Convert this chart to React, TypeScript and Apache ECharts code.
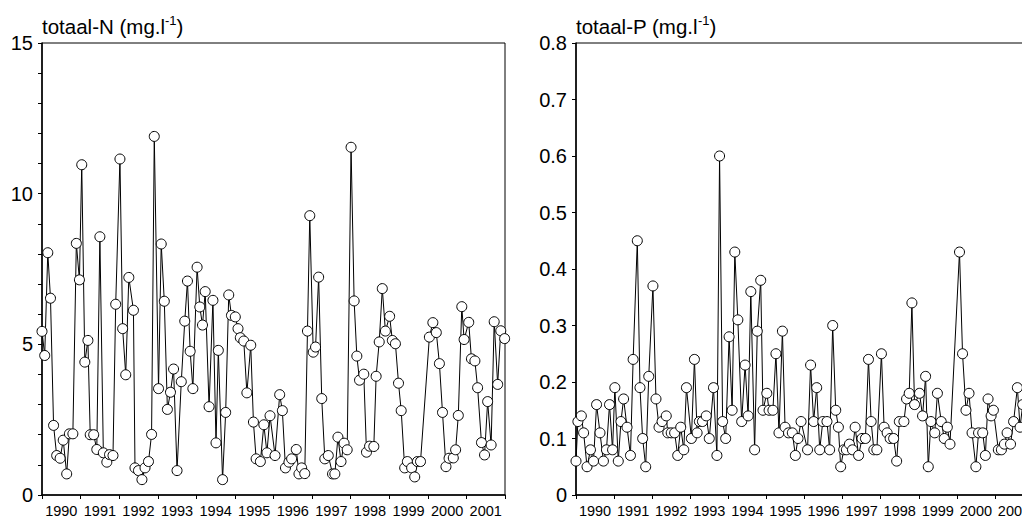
import React, { useEffect, useRef } from "react";
import * as echarts from "echarts";

const yearLabels = ["1990", "1991", "1992", "1993", "1994", "1995", "1996", "1997", "1998", "1999", "2000", "2001"];

const nX = [
  1990.00, 1990.07, 1990.15, 1990.22, 1990.30, 1990.38, 1990.47, 1990.55, 1990.64, 1990.71,
  1990.80, 1990.89, 1990.97, 1991.03, 1991.11, 1991.19, 1991.25, 1991.34, 1991.42, 1991.50,
  1991.59, 1991.68, 1991.75, 1991.84, 1991.91, 1992.02, 1992.09, 1992.17, 1992.25, 1992.37,
  1992.41, 1992.50, 1992.59, 1992.67, 1992.76, 1992.84, 1992.91, 1993.02, 1993.09, 1993.17,
  1993.25, 1993.33, 1993.41, 1993.50, 1993.61, 1993.70, 1993.77, 1993.84, 1993.91, 1994.02,
  1994.09, 1994.16, 1994.23, 1994.33, 1994.43, 1994.51, 1994.57, 1994.68, 1994.76, 1994.84,
  1994.91, 1995.01, 1995.08, 1995.14, 1995.23, 1995.31, 1995.41, 1995.48, 1995.55, 1995.66,
  1995.75, 1995.83, 1995.91, 1996.04, 1996.16, 1996.23, 1996.31, 1996.40, 1996.47, 1996.59,
  1996.66, 1996.73, 1996.81, 1996.88, 1996.94, 1997.03, 1997.09, 1997.17, 1997.25, 1997.33,
  1997.42, 1997.53, 1997.59, 1997.67, 1997.75, 1997.83, 1997.91, 1998.01, 1998.09, 1998.16,
  1998.23, 1998.34, 1998.41, 1998.49, 1998.60, 1998.66, 1998.74, 1998.82, 1998.90, 1999.01,
  1999.08, 1999.16, 1999.24, 1999.31, 1999.40, 1999.47, 1999.58, 1999.66, 1999.73, 1999.81,
  2000.04, 2000.13, 2000.22, 2000.30, 2000.38, 2000.47, 2000.55, 2000.66, 2000.72, 2000.79,
  2000.88, 2000.94, 2001.06, 2001.13, 2001.22, 2001.29, 2001.39, 2001.47, 2001.55, 2001.64,
  2001.72, 2001.81, 2001.89, 2001.99,
];

const nValues = [
  5.43, 4.63, 8.04, 6.53, 2.31, 1.31, 1.22, 1.82, 0.70, 2.03,
  2.03, 8.35, 7.14, 10.96, 4.41, 5.13, 2.0, 2.0, 1.51, 8.57,
  1.40, 1.09, 1.34, 1.31, 6.33, 11.15, 5.52, 3.99, 7.22, 6.13,
  0.90, 0.81, 0.51, 0.90, 1.11, 2.01, 11.90, 3.53, 8.33, 6.43,
  2.84, 3.41, 4.18, 0.81, 3.76, 5.77, 7.10, 4.77, 3.53, 7.56,
  6.24, 5.64, 6.75, 2.93, 6.46, 1.73, 4.80, 0.51, 2.74, 6.64,
  5.96, 5.91, 5.52, 5.22, 5.11, 3.39, 4.97, 2.42, 1.20, 1.11,
  2.33, 1.40, 2.63, 1.31, 3.33, 2.80, 0.90, 1.09, 1.20, 1.51,
  0.70, 0.90, 0.71, 5.44, 9.27, 4.74, 4.91, 7.23, 3.20, 1.20,
  1.31, 0.70, 0.70, 1.92, 1.11, 1.72, 1.50, 11.54, 6.44, 4.61,
  3.81, 4.01, 1.42, 1.62, 1.61, 3.94, 5.08, 6.85, 5.44, 5.93,
  5.13, 5.02, 3.71, 2.80, 0.90, 1.11, 0.90, 0.60, 1.11, 1.11,
  5.24, 5.72, 5.39, 4.36, 2.74, 0.94, 1.22, 1.23, 1.50, 2.64,
  6.25, 5.16, 5.73, 4.52, 4.45, 3.56, 1.74, 1.33, 3.10, 1.66,
  5.75, 3.67, 5.45, 5.19,
];

const pX = [
  1990.00, 1990.05, 1990.14, 1990.20, 1990.29, 1990.38, 1990.46, 1990.54, 1990.63, 1990.72,
  1990.80, 1990.88, 1990.96, 1991.02, 1991.11, 1991.18, 1991.25, 1991.34, 1991.43, 1991.50,
  1991.61, 1991.68, 1991.75, 1991.83, 1991.91, 1992.02, 1992.10, 1992.18, 1992.26, 1992.37,
  1992.41, 1992.50, 1992.59, 1992.67, 1992.75, 1992.83, 1992.90, 1993.03, 1993.11, 1993.18,
  1993.24, 1993.32, 1993.42, 1993.50, 1993.61, 1993.70, 1993.77, 1993.85, 1993.93, 1994.02,
  1994.10, 1994.17, 1994.25, 1994.35, 1994.44, 1994.52, 1994.59, 1994.69, 1994.76, 1994.85,
  1994.91, 1995.01, 1995.07, 1995.17, 1995.25, 1995.33, 1995.42, 1995.49, 1995.58, 1995.68,
  1995.76, 1995.83, 1995.91, 1996.08, 1996.16, 1996.24, 1996.32, 1996.40, 1996.48, 1996.59,
  1996.66, 1996.74, 1996.82, 1996.89, 1996.95, 1997.03, 1997.10, 1997.18, 1997.26, 1997.33,
  1997.42, 1997.51, 1997.60, 1997.68, 1997.75, 1997.82, 1997.90, 1998.02, 1998.09, 1998.17,
  1998.25, 1998.34, 1998.42, 1998.49, 1998.61, 1998.68, 1998.75, 1998.82, 1998.89, 1999.02,
  1999.10, 1999.18, 1999.25, 1999.32, 1999.42, 1999.49, 1999.59, 1999.67, 1999.75, 1999.82,
  2000.07, 2000.15, 2000.24, 2000.32, 2000.40, 2000.50, 2000.57, 2000.68, 2000.75, 2000.82,
  2000.90, 2000.96, 2001.09, 2001.17, 2001.25, 2001.32, 2001.41, 2001.49, 2001.59, 2001.66,
  2001.73,
];

const pValues = [
  0.06, 0.13, 0.14, 0.11, 0.05, 0.08, 0.06, 0.16, 0.11, 0.06,
  0.08, 0.16, 0.08, 0.19, 0.06, 0.13, 0.17, 0.12, 0.07, 0.24,
  0.45, 0.19, 0.10, 0.05, 0.21, 0.37, 0.17, 0.12, 0.13, 0.14,
  0.11, 0.11, 0.11, 0.07, 0.12, 0.08, 0.19, 0.10, 0.24, 0.11,
  0.13, 0.13, 0.14, 0.10, 0.19, 0.07, 0.60, 0.13, 0.10, 0.28,
  0.15, 0.43, 0.31, 0.13, 0.23, 0.14, 0.36, 0.08, 0.29, 0.38,
  0.15, 0.18, 0.15, 0.15, 0.25, 0.11, 0.29, 0.12, 0.11, 0.11,
  0.07, 0.10, 0.13, 0.08, 0.23, 0.13, 0.19, 0.08, 0.13, 0.13,
  0.08, 0.30, 0.15, 0.12, 0.05, 0.08, 0.08, 0.09, 0.08, 0.12,
  0.07, 0.10, 0.10, 0.24, 0.13, 0.08, 0.08, 0.25, 0.12, 0.11,
  0.10, 0.10, 0.06, 0.13, 0.13, 0.17, 0.18, 0.34, 0.16, 0.18,
  0.14, 0.21, 0.05, 0.13, 0.11, 0.18, 0.13, 0.10, 0.12, 0.09,
  0.43, 0.25, 0.15, 0.18, 0.11, 0.05, 0.11, 0.11, 0.07, 0.17,
  0.14, 0.15, 0.08, 0.08, 0.09, 0.11, 0.09, 0.13, 0.19, 0.12,
  0.16,
];

const FONT = "'Liberation Sans', Arial, Helvetica, sans-serif";

export default function App() {
  const ref = useRef<HTMLDivElement>(null);

  useEffect(() => {
    if (!ref.current) return;
    const chart = echarts.init(ref.current, null, { renderer: "svg" });

    const nData = nX.map((x, i) => [x, nValues[i]]);
    const pData = pX.map((x, i) => [x, pValues[i]]);

    const axisLine = { show: true, lineStyle: { color: "#000", width: 1.5 } };

    const valueX = (gridIndex: number) => ({
      type: "value",
      gridIndex,
      min: 1990,
      max: 2002,
      show: false,
    });

    const catX = (gridIndex: number) => ({
      type: "category",
      gridIndex,
      data: yearLabels,
      boundaryGap: true,
      position: "bottom",
      axisLine,
      axisTick: { show: true, length: 4, inside: false, lineStyle: { color: "#000", width: 1 } },
      axisLabel: { color: "#000", fontSize: 14.5, fontFamily: FONT, margin: 8, interval: 0, hideOverlap: false },
      splitLine: { show: false },
    });

    const symbolStyle = {
      type: "line",
      symbol: "circle",
      symbolSize: 10,
      showAllSymbol: true,
      lineStyle: { color: "#000", width: 1 },
      itemStyle: { color: "#fff", borderColor: "#000", borderWidth: 1 },
      emphasis: { disabled: true },
    };

    const titleRich = {
      a: { fontSize: 20.5, fontFamily: FONT, fill: "#000", lineHeight: 24 },
      s: { fontSize: 13, fontFamily: FONT, fill: "#000", verticalAlign: "top", lineHeight: 24 },
    };

    chart.setOption({
      animation: false,
      grid: [
        { left: 42, top: 43, width: 463, height: 452, show: true, borderColor: "#000", borderWidth: 1, backgroundColor: "transparent", outerBoundsMode: "none", containLabel: false },
        { left: 576, top: 43, width: 457, height: 452, show: true, borderColor: "#000", borderWidth: 1, backgroundColor: "transparent", outerBoundsMode: "none", containLabel: false },
      ],
      xAxis: [valueX(0), catX(0), valueX(1), catX(1)],
      yAxis: [
        {
          type: "value",
          gridIndex: 0,
          min: 0,
          max: 15,
          interval: 1,
          axisLine,
          axisTick: { show: true, length: 4, lineStyle: { color: "#000", width: 1 } },
          axisLabel: {
            color: "#000",
            fontSize: 20,
            fontFamily: FONT,
            margin: 9,
            formatter: (v: number) => (v % 5 === 0 ? String(v) : ""),
          },
          splitLine: { show: false },
        },
        {
          type: "value",
          gridIndex: 1,
          min: 0,
          max: 0.8,
          interval: 0.1,
          axisLine,
          axisTick: { show: true, length: 4, lineStyle: { color: "#000", width: 1 } },
          axisLabel: {
            color: "#000",
            fontSize: 20,
            fontFamily: FONT,
            margin: 9,
            formatter: (v: number) => (Math.abs(v) < 1e-9 ? "0" : v.toFixed(1)),
          },
          splitLine: { show: false },
        },
      ],
      graphic: [
        {
          type: "text",
          left: 42,
          top: 14,
          style: { text: "{a|totaal-N (mg.l}{s|-1}{a|)}", rich: titleRich },
        },
        {
          type: "text",
          left: 576,
          top: 14,
          style: { text: "{a|totaal-P (mg.l}{s|-1}{a|)}", rich: titleRich },
        },
      ],
      series: [
        { ...symbolStyle, name: "totaal-N", xAxisIndex: 0, yAxisIndex: 0, data: nData },
        { ...symbolStyle, name: "totaal-P", xAxisIndex: 2, yAxisIndex: 1, data: pData },
      ],
    });

    return () => chart.dispose();
  }, []);

  return (
    <div
      ref={ref}
      style={{ position: "fixed", left: 0, top: 0, width: 1022, height: 519, background: "#fff" }}
    />
  );
}
